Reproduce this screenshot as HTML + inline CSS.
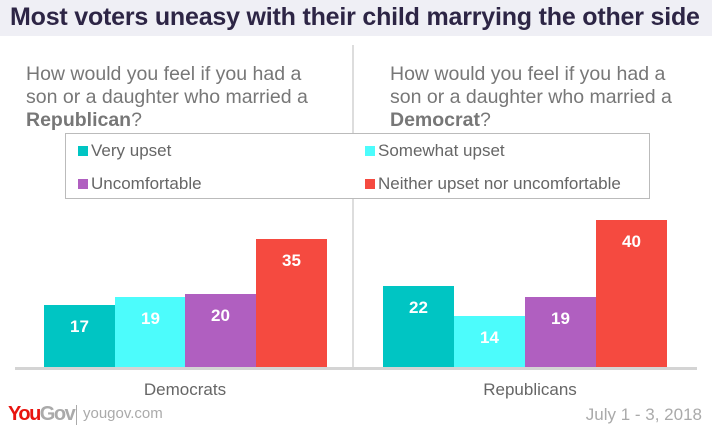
<!DOCTYPE html>
<html><head><meta charset="utf-8"><style>
body{margin:0;width:712px;height:432px;background:#fff;font-family:"Liberation Sans",sans-serif;position:relative;overflow:hidden}
.a{position:absolute}
.t{left:0;top:0;width:712px;height:36px;background:#efeff5}
.t span{position:absolute;left:10px;top:3px;font-size:25px;font-weight:bold;color:#2d2545;letter-spacing:-0.2px}
.q{font-size:19.5px;color:#777;line-height:23px}
.b{position:absolute;width:71px;bottom:65px}
.v{position:absolute;width:71px;text-align:center;color:#fff;font-weight:bold;font-size:17px}
.lg{font-size:17px;color:#666}
.sq{display:inline-block;width:10px;height:10px;margin-right:3px}
</style></head><body>
<div class="a t"><span>Most voters uneasy with their child marrying the other side</span></div>
<div class="a" style="left:352px;top:45px;width:2px;height:322px;background:#ddd"></div>
<div class="a q" style="left:26px;top:63px">How would you feel if you had a<br>son or a daughter who married a<br><b>Republican</b>?</div>
<div class="a q" style="left:390px;top:63px">How would you feel if you had a<br>son or a daughter who married a<br><b>Democrat</b>?</div>
<div class="a" style="left:65px;top:133px;width:585px;height:66px;border:1.5px solid #bbb;box-sizing:border-box;background:#fff"></div>
<div class="a lg" style="left:78px;top:141px"><span class="sq" style="background:#00c5c3"></span>Very upset</div>
<div class="a lg" style="left:78px;top:174px"><span class="sq" style="background:#b05fc0"></span>Uncomfortable</div>
<div class="a lg" style="left:365px;top:141px"><span class="sq" style="background:#4cfcfc"></span>Somewhat upset</div>
<div class="a lg" style="left:365px;top:174px"><span class="sq" style="background:#f54a40"></span>Neither upset nor uncomfortable</div>
<div class="b" style="left:44px;height:62px;background:#00c5c3"></div>
<div class="b" style="left:115px;height:70px;background:#4cfcfc"></div>
<div class="b" style="left:185px;height:73px;background:#b05fc0"></div>
<div class="b" style="left:256px;height:128px;background:#f54a40"></div>
<div class="b" style="left:383px;height:81px;background:#00c5c3"></div>
<div class="b" style="left:454px;height:51px;background:#4cfcfc"></div>
<div class="b" style="left:525px;height:70px;background:#b05fc0"></div>
<div class="b" style="left:596px;height:147px;background:#f54a40"></div>
<div class="v" style="left:44px;top:317px">17</div>
<div class="v" style="left:115px;top:309px">19</div>
<div class="v" style="left:185px;top:306px">20</div>
<div class="v" style="left:256px;top:251px">35</div>
<div class="v" style="left:383px;top:298px">22</div>
<div class="v" style="left:454px;top:328px">14</div>
<div class="v" style="left:525px;top:309px">19</div>
<div class="v" style="left:596px;top:232px">40</div>
<div class="a" style="left:15px;top:367px;width:682px;height:3px;background:#d4d4d4"></div>
<div class="a" style="left:0;top:380px;width:370px;text-align:center;font-size:17px;color:#666">Democrats</div>
<div class="a" style="left:345px;top:380px;width:370px;text-align:center;font-size:17px;color:#666">Republicans</div>
<div class="a" style="left:8px;top:403px;font-size:20px;font-weight:bold;letter-spacing:-1.5px"><span style="color:#e8140f">You</span><span style="color:#aaa">Gov</span></div>
<div class="a" style="left:76px;top:405px;width:1px;height:20px;background:#aaa"></div>
<div class="a" style="left:83px;top:405px;font-size:15px;color:#aaa">yougov.com</div>
<div class="a" style="left:570px;top:405px;width:132px;text-align:right;font-size:17px;color:#aaa">July 1 - 3, 2018</div>
</body></html>
